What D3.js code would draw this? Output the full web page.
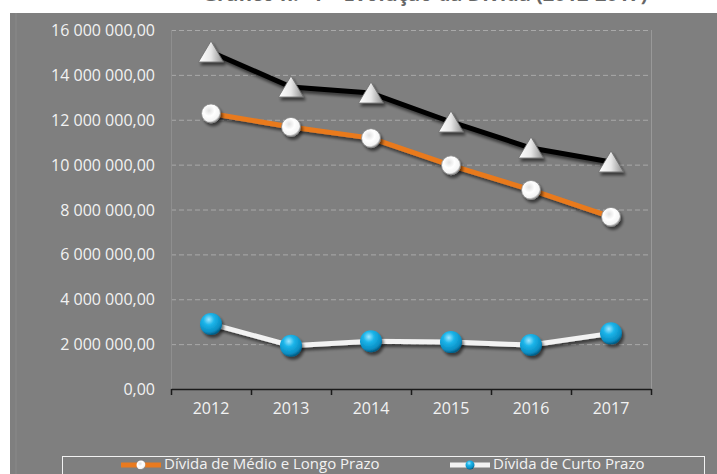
<!DOCTYPE html>
<html>
<head>
<meta charset="utf-8">
<script src="https://cdn.jsdelivr.net/npm/d3@7"></script>
<style>
  body { margin: 0; background: #fff; }
  svg { display: block; }
</style>
</head>
<body>
<div id="chart"></div>
<script>
// Data
const years = ['2012', '2013', '2014', '2015', '2016', '2017'];
const medioLongo = [12280000, 11680000, 11180000, 9970000, 8870000, 7670000];
const curto = [2900000, 1930000, 2130000, 2090000, 1960000, 2480000];
const total = [15020000, 13460000, 13190000, 11900000, 10740000, 10120000];
const yTicks = [0, 2000000, 4000000, 6000000, 8000000, 10000000, 12000000, 14000000, 16000000];
const seriesNames = ['Dívida de Médio e Longo Prazo', 'Dívida de Curto Prazo'];
const title = 'Gráfico n.º 1 – Evolução da Dívida (2012-2017)';

function drawChart(chartId) {
    const W = 717, H = 474;
    const margin = {left: 171, right: 66, top: 30, bottom: 85};
    const fmt = d3.formatLocale({decimal: ',', thousands: ' ', grouping: [3], currency: ['', '']}).format(',.2f');

    d3.select(chartId).html('');
    const svg = d3.select(chartId).append('svg')
        .attr('width', W)
        .attr('height', H)
        .style('font-family', '"Open Sans", sans-serif');

    const defs = svg.append('defs');

    // drop shadow
    const sh = defs.append('filter').attr('id', 'shadow')
        .attr('x', '-50%').attr('y', '-50%').attr('width', '200%').attr('height', '200%');
    sh.append('feGaussianBlur').attr('in', 'SourceAlpha').attr('stdDeviation', 1.8);
    sh.append('feOffset').attr('dx', 2).attr('dy', 3).attr('result', 'off');
    sh.append('feComponentTransfer').append('feFuncA').attr('type', 'linear').attr('slope', 0.55);
    const m = sh.append('feMerge');
    m.append('feMergeNode');
    m.append('feMergeNode').attr('in', 'SourceGraphic');

    // white ball gradient
    const wg = defs.append('radialGradient').attr('id', 'whiteBall')
        .attr('cx', '40%').attr('cy', '35%').attr('r', '65%');
    wg.append('stop').attr('offset', '0%').attr('stop-color', '#e0e0e0');
    wg.append('stop').attr('offset', '45%').attr('stop-color', '#ffffff');
    wg.append('stop').attr('offset', '85%').attr('stop-color', '#f4f4f4');
    wg.append('stop').attr('offset', '100%').attr('stop-color', '#9a9a9a');

    // blue ball gradient
    const bg = defs.append('radialGradient').attr('id', 'blueBall')
        .attr('cx', '40%').attr('cy', '30%').attr('r', '70%');
    bg.append('stop').attr('offset', '0%').attr('stop-color', '#9fe6ff');
    bg.append('stop').attr('offset', '35%').attr('stop-color', '#1cb5ea');
    bg.append('stop').attr('offset', '80%').attr('stop-color', '#0a8fc4');
    bg.append('stop').attr('offset', '100%').attr('stop-color', '#045c84');

    // triangle gradient
    const tg = defs.append('linearGradient').attr('id', 'tri')
        .attr('x1', '0%').attr('y1', '0%').attr('x2', '100%').attr('y2', '0%');
    tg.append('stop').attr('offset', '0%').attr('stop-color', '#ffffff');
    tg.append('stop').attr('offset', '50%').attr('stop-color', '#e6e6e6');
    tg.append('stop').attr('offset', '100%').attr('stop-color', '#8c8c8c');

    // Title (mostly cropped above the chart, as in the source)
    svg.append('text')
        .attr('x', 425).attr('y', 1)
        .attr('text-anchor', 'middle')
        .attr('fill', '#666')
        .style('font-size', '20px')
        .style('font-weight', 'bold')
        .text(title);

    // Chart background
    svg.append('rect')
        .attr('x', 10).attr('y', 13)
        .attr('width', W - 10).attr('height', H - 13)
        .attr('fill', '#7f7f7f');
    svg.append('line')
        .attr('x1', 16).attr('x2', 16).attr('y1', 13).attr('y2', H)
        .attr('stroke', '#8a8a8a').attr('stroke-width', 1);

    const x = d3.scaleBand()
        .domain(years)
        .range([margin.left, W - margin.right]);

    const y = d3.scaleLinear()
        .domain([0, 16000000])
        .range([H - margin.bottom, margin.top]);

    // Grid lines
    svg.append('g')
        .selectAll('line')
        .data(yTicks.filter(d => d > 0))
        .enter().append('line')
        .attr('x1', margin.left).attr('x2', W - margin.right)
        .attr('y1', d => y(d) + 0.5).attr('y2', d => y(d) + 0.5)
        .attr('stroke', '#a9a9a9')
        .attr('stroke-width', 1)
        .attr('stroke-dasharray', '5,3');

    // plot area border (left/right)
    svg.append('line')
        .attr('x1', W - margin.right + 0.5).attr('x2', W - margin.right + 0.5)
        .attr('y1', margin.top).attr('y2', H - margin.bottom)
        .attr('stroke', '#999').attr('stroke-width', 1);
    svg.append('line')
        .attr('x1', margin.left + 0.5).attr('x2', margin.left + 0.5)
        .attr('y1', margin.top).attr('y2', H - margin.bottom)
        .attr('stroke', '#8f8f8f').attr('stroke-width', 1);

    // Y labels
    svg.append('g')
        .selectAll('text')
        .data(yTicks)
        .enter().append('text')
        .attr('x', 155)
        .attr('y', d => y(d) + 6)
        .attr('text-anchor', 'end')
        .attr('fill', '#f2f2f2')
        .style('font-size', '16px')
        .text(d => fmt(d));

    // X axis
    const xAxis = svg.append('g')
        .attr('transform', 'translate(0,' + (H - margin.bottom) + ')')
        .call(d3.axisBottom(x).tickSize(0).tickPadding(14));
    xAxis.select('.domain').attr('stroke', '#1a1a1a').attr('stroke-width', 1.5);
    xAxis.selectAll('text')
        .attr('fill', '#f2f2f2')
        .style('font-size', '16px')
        .style('font-family', '"Open Sans", sans-serif');
    xAxis.selectAll('.tick line').remove();
    // category boundary ticks
    const bounds = years.map(d => x(d)).concat([x(years[years.length - 1]) + x.bandwidth()]);
    svg.append('g')
        .selectAll('line')
        .data(bounds)
        .enter().append('line')
        .attr('x1', d => d + 0.5).attr('x2', d => d + 0.5)
        .attr('y1', H - margin.bottom).attr('y2', H - margin.bottom + 6)
        .attr('stroke', '#1a1a1a').attr('stroke-width', 1.5);

    const cx = (d, i) => x(years[i]) + x.bandwidth() / 2;
    const line = d3.line().x(cx).y(d => y(d));

    // Lines
    svg.append('path').datum(total)
        .attr('fill', 'none').attr('stroke', '#000').attr('stroke-width', 5)
        .attr('stroke-linejoin', 'round')
        .attr('filter', 'url(#shadow)')
        .attr('d', line);
    svg.append('path').datum(medioLongo)
        .attr('fill', 'none').attr('stroke', '#e97a1f').attr('stroke-width', 5)
        .attr('stroke-linejoin', 'round')
        .attr('filter', 'url(#shadow)')
        .attr('d', line);
    svg.append('path').datum(curto)
        .attr('fill', 'none').attr('stroke', '#f2f2f2').attr('stroke-width', 5)
        .attr('stroke-linejoin', 'round')
        .attr('filter', 'url(#shadow)')
        .attr('d', line);

    // Markers
    svg.append('g').selectAll('path')
        .data(total)
        .enter().append('path')
        .attr('transform', (d, i) => 'translate(' + cx(d, i) + ',' + y(d) + ')')
        .attr('d', 'M0,-11 L12.5,10 L-12.5,10 Z')
        .attr('fill', 'url(#tri)')
        .attr('stroke', '#6b6b6b')
        .attr('stroke-width', 0.8)
        .attr('filter', 'url(#shadow)');

    svg.append('g').selectAll('circle')
        .data(medioLongo)
        .enter().append('circle')
        .attr('cx', cx).attr('cy', d => y(d))
        .attr('r', 9.5)
        .attr('fill', 'url(#whiteBall)')
        .attr('stroke', '#8a8a8a')
        .attr('stroke-width', 0.8)
        .attr('filter', 'url(#shadow)');

    svg.append('g').selectAll('circle')
        .data(curto)
        .enter().append('circle')
        .attr('cx', cx).attr('cy', d => y(d))
        .attr('r', 11)
        .attr('fill', 'url(#blueBall)')
        .attr('filter', 'url(#shadow)');

    // Legend
    svg.append('rect')
        .attr('x', 62.5).attr('y', 456.5)
        .attr('width', 642).attr('height', 30)
        .attr('fill', 'none')
        .attr('stroke', '#f2f2f2').attr('stroke-width', 1);

    const leg = [
        {x: 121, color: '#e97a1f', marker: 'white'},
        {x: 450, color: '#f2f2f2', marker: 'blue'}
    ];
    leg.forEach((l, i) => {
        svg.append('line')
            .attr('x1', l.x).attr('x2', l.x + 40)
            .attr('y1', 465).attr('y2', 465)
            .attr('stroke', l.color).attr('stroke-width', 5);
        svg.append('circle')
            .attr('cx', l.x + 20).attr('cy', 465)
            .attr('r', 4.5)
            .attr('fill', l.marker === 'white' ? 'url(#whiteBall)' : 'url(#blueBall)');
        svg.append('text')
            .attr('x', l.x + 43).attr('y', 469)
            .attr('fill', '#f2f2f2')
            .style('font-size', '15px')
            .text(seriesNames[i]);
    });
}

drawChart('#chart');
</script>
</body>
</html>
